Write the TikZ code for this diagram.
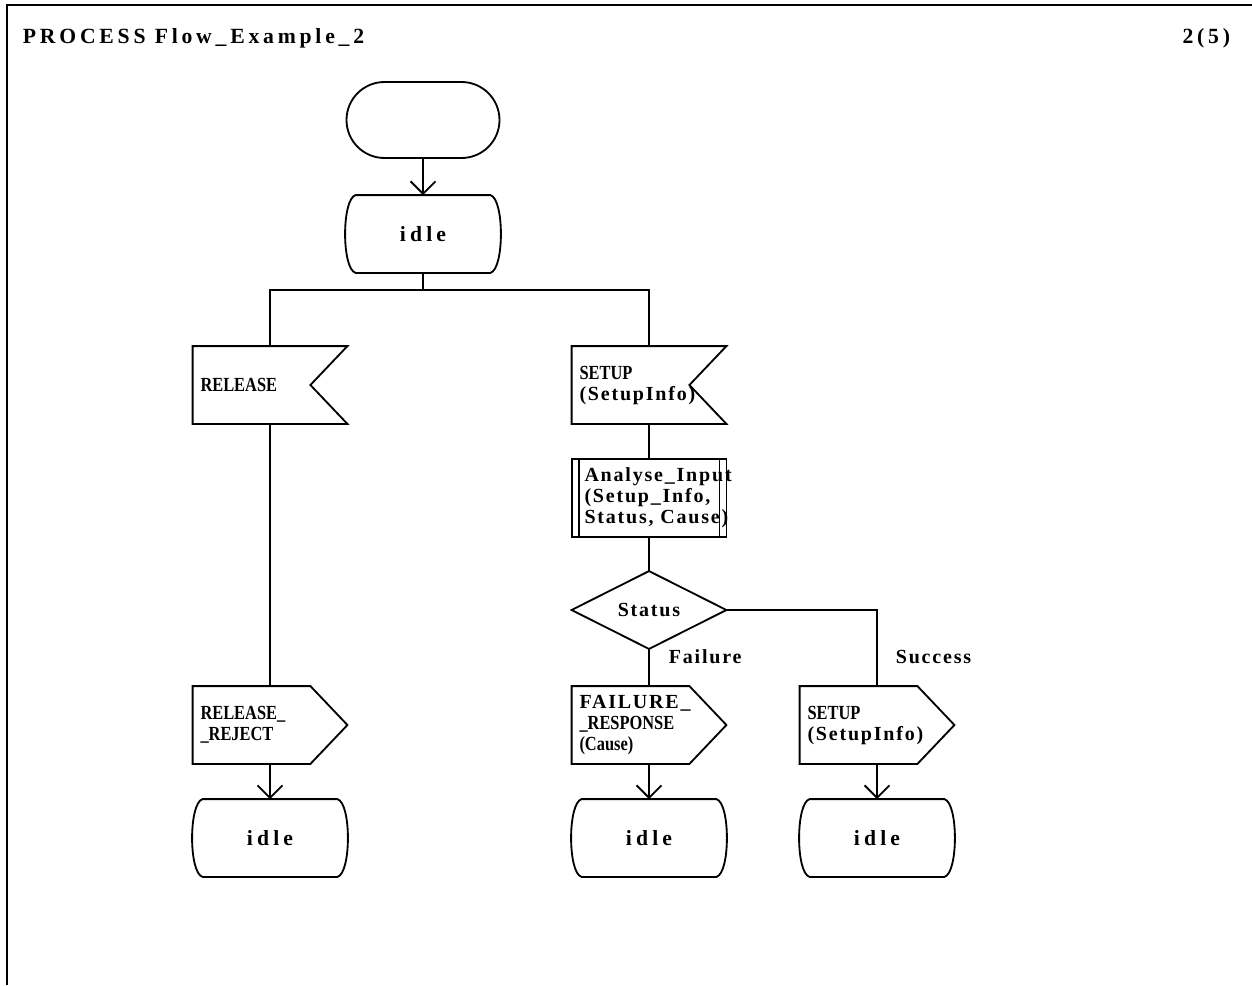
\documentclass[tikz,border=0pt]{standalone}
\usepackage{fontspec}
\setmainfont{Liberation Serif}
\newfontfamily\spcf{Liberation Serif}[LetterSpace=9]
\newfontfamily\idlef{Liberation Serif}[LetterSpace=19]
\newfontfamily\ttlf{Liberation Serif}[LetterSpace=17.5]
\newfontfamily\cndf{Liberation Serif}[FakeStretch=0.82]
\newcommand{\cnd}[1]{{\fontsize{12}{12.6}\selectfont\cndf\bfseries #1}}
\usetikzlibrary{arrows.meta}
\begin{document}
\begin{tikzpicture}[x=0.6pt,y=-0.6pt,line width=1.1pt,
  box/.style={minimum width=91.8pt,minimum height=45.6pt,inner sep=0pt},
  ltext/.style={box,inner xsep=4.2pt,text width=83.4pt,align=left,
    font=\fontsize{12}{12.6}\selectfont\spcf\bfseries},
  ptext/.style={box,inner xsep=7.2pt,text width=77.4pt,align=left,
    font=\fontsize{12}{12.6}\selectfont\spcf\bfseries},
  ctext/.style={box,align=center,font=\fontsize{13}{13}\selectfont\idlef\bfseries},
  dtext/.style={box,align=center,font=\fontsize{12}{12.6}\selectfont\spcf\bfseries},
  lbl/.style={inner sep=0pt,anchor=west,font=\fontsize{12}{12.6}\selectfont\spcf\bfseries},
  ttl/.style={inner sep=0pt,font=\fontsize{13}{14}\selectfont\ttlf\bfseries},
  flow/.style={-{Straight Barb[length=7.5pt,width=15pt]}},
  conn/.style={}]
\useasboundingbox (0,0) rectangle (1252,985);
% frame
\draw[line width=1.4pt] (7,985) -- (7,5) -- (1252,5);
\node[ttl,anchor=west] (title) at (22,38) {PROCESS Flow\_Example\_2};
\node[ttl,anchor=east] (page) at (1231,38) {2(5)};
% nodes
\node[box,draw,rounded corners=22.8pt] (start) at (423,120) {};
\node[ctext] (i0) at (423,234) {idle};
\coordinate (j1) at (423,290);
\node[ltext] (rel) at (270,385) {\cnd{RELEASE}};
\node[ltext] (sin) at (649,385) {\cnd{SETUP}\\(SetupInfo)};
\node[ptext] (proc) at (649,498) {Analyse\_Input\\(Setup\_Info,\\Status,~Cause)};
\node[dtext] (dec) at (649,610) {Status};
\node[lbl] (lf) at (668,657) {Failure};
\node[lbl] (ls) at (895,657) {Success};
\node[ltext] (rr) at (270,725) {\cnd{RELEASE\_}\\\cnd{\_REJECT}};
\node[ltext] (fr) at (649,725) {FAILURE\_\\\cnd{\_RESPONSE}\\\cnd{(Cause)}};
\node[ltext] (sout) at (877,725) {\cnd{SETUP}\\(SetupInfo)};
\node[ctext] (i1) at (270,838) {idle};
\node[ctext] (i2) at (649,838) {idle};
\node[ctext] (i3) at (877,838) {idle};
% outlines: states
\foreach \n in {i0,i1,i2,i3}{
  \draw ([xshift=6pt]\n.north west) -- ([xshift=-6pt]\n.north east)
    .. controls ([xshift=2.4pt,yshift=-2.4pt]\n.north east) and ([xshift=2.4pt,yshift=2.4pt]\n.south east) .. ([xshift=-6pt]\n.south east)
    -- ([xshift=6pt]\n.south west)
    .. controls ([xshift=-2.4pt,yshift=2.4pt]\n.south west) and ([xshift=-2.4pt,yshift=-2.4pt]\n.north west) .. cycle;
}
% inputs
\foreach \n in {rel,sin}{
  \draw (\n.north west) -- (\n.north east) -- ([xshift=-22.2pt]\n.east) -- (\n.south east) -- (\n.south west) -- cycle;
}
% outputs
\foreach \n in {rr,fr,sout}{
  \draw (\n.north west) -- ([xshift=-22.2pt]\n.north east) -- (\n.east) -- ([xshift=-22.2pt]\n.south east) -- (\n.south west) -- cycle;
}
% procedure
\draw (proc.north west) rectangle (proc.south east);
\draw ([xshift=4.2pt]proc.north west) -- ([xshift=4.2pt]proc.south west);
\draw ([xshift=-4.2pt]proc.north east) -- ([xshift=-4.2pt]proc.south east);
% decision
\draw (dec.north) -- (dec.east) -- (dec.south) -- (dec.west) -- cycle;
% connectors
\draw[flow] (start.south) -- (i0.north);
\draw[conn] (i0.south) -- (j1);
\draw[conn] (rel.north) |- (j1) -| (sin.north);
\draw[conn] (rel.south) -- (rr.north);
\draw[flow] (rr.south) -- (i1.north);
\draw[conn] (sin.south) -- (proc.north);
\draw[conn] (proc.south) -- (dec.north);
\draw[conn] (dec.south) -- (fr.north);
\draw[conn] (dec.east) -| (sout.north);
\draw[flow] (fr.south) -- (i2.north);
\draw[flow] (sout.south) -- (i3.north);
\end{tikzpicture}
\end{document}
